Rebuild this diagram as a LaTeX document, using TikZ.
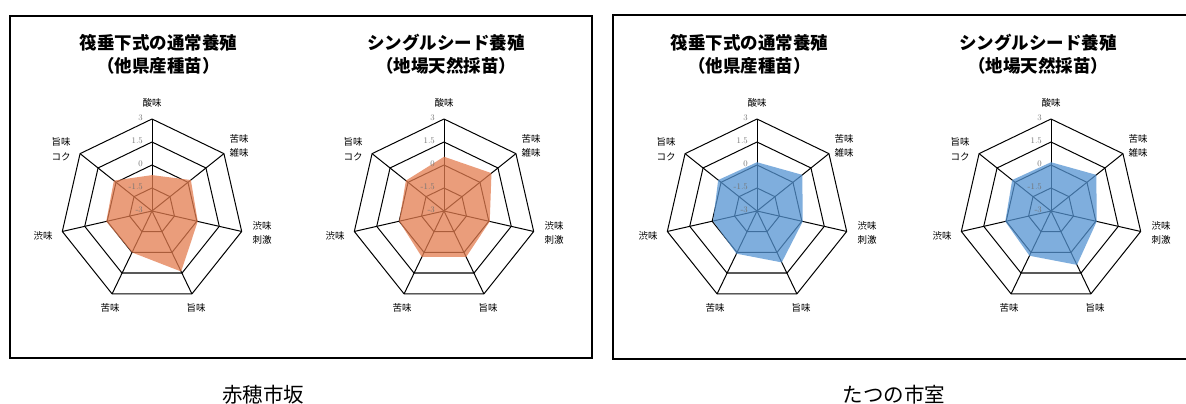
\documentclass[tikz,border=0pt]{standalone}
\usepackage{fontspec}
\newfontfamily\cjk{Noto Sans CJK JP}
\definecolor{orangefill}{RGB}{228,125,80}
\definecolor{bluefill}{RGB}{85,148,210}
\tikzset{
  gridline/.style={black, line width=1pt, line join=round},
  axislabel/.style={font=\cjk\fontsize{9.5}{14.5}\selectfont, align=center, inner sep=0pt},
  scalelabel/.style={font=\fontsize{8.5}{8.5}\selectfont, text=black!55, anchor=east, inner sep=0pt},
  charttitle/.style={font=\cjk\bfseries\fontsize{17.5}{23}\selectfont, align=center, inner sep=0pt},
  captiontext/.style={font=\cjk\fontsize{20.5}{24}\selectfont, inner sep=0pt},
  panelframe/.style={black, line width=2pt},
  datafill/.style={fill=#1, fill opacity=0.75},
}
% #1 prefix, #2 centre x, #3 fill colour, #4 seven radius fractions
\newcommand\radarchart[4]{%
  \begin{scope}[shift={(#2,193)}]
    \foreach \f in {1,0.75,0.5,0.25}{
      \draw[gridline] (90:\f*92) \foreach \k in {1,...,6}{ -- (90-\k*360/7:\f*92) } -- cycle;
    }
    \draw[gray!70!black, line width=1.6pt] (90-3*360/7:0.75*92) -- (90-4*360/7:0.75*92);
    \foreach \k in {0,...,6}{
      \draw[gridline] (0,0) -- (90-\k*360/7:92);
    }
    \foreach \v [count=\k from 0] in {#4}{
      \coordinate (#1-p\k) at (90-\k*360/7:\v*92);
    }
    \fill[datafill=#3] (#1-p0) -- (#1-p1) -- (#1-p2) -- (#1-p3) -- (#1-p4) -- (#1-p5) -- (#1-p6) -- cycle;
    \node[scalelabel] (#1-s3) at (-9,93) {3};
    \node[scalelabel] (#1-s2) at (-9,70) {1.5};
    \node[scalelabel] (#1-s1) at (-9,47) {0};
    \node[scalelabel] (#1-s0) at (-9,24) {-1.5};
    \node[scalelabel] (#1-sm) at (-9,1) {-3};
    \node[axislabel] (#1-a0) at (0,108) {酸味};
    \node[axislabel] (#1-a1) at (87,65) {苦味\\雑味};
    \node[axislabel] (#1-a2) at (110,-22) {渋味\\刺激};
    \node[axislabel] (#1-a3) at (44,-97) {旨味};
    \node[axislabel] (#1-a4) at (-42,-97) {苦味};
    \node[axislabel] (#1-a5) at (-109,-25) {渋味};
    \node[axislabel] (#1-a6) at (-91,62) {旨味\\コク};
  \end{scope}
}
\begin{document}
\begin{tikzpicture}[x=1pt, y=1pt]
  \useasboundingbox (0,0) rectangle (1186,404);
  \clip (0,0) rectangle (1186,404);
  \fill[white] (0,0) rectangle (1186,404);
  % frames
  \draw[panelframe] (10,46) rectangle (592,388);
  \draw[panelframe] (613,45) rectangle (1200,389);
  % charts
  \radarchart{c1}{152}{orangefill}{0.39,0.54,0.51,0.73,0.50,0.51,0.53}
  \radarchart{c2}{444}{orangefill}{0.59,0.66,0.51,0.555,0.555,0.50,0.53}
  \radarchart{c3}{757}{bluefill}{0.53,0.63,0.51,0.62,0.515,0.49,0.54}
  \radarchart{c4}{1051}{bluefill}{0.53,0.63,0.51,0.65,0.54,0.51,0.54}
  % titles
  \node[charttitle] (t1) at (158.5,349.5) {筏垂下式の通常養殖\\（他県産種苗）};
  \node[charttitle] (t2) at (446,349.5) {シングルシード養殖\\（地場天然採苗）};
  \node[charttitle] (t3) at (749.5,349.5) {筏垂下式の通常養殖\\（他県産種苗）};
  \node[charttitle] (t4) at (1038,349.5) {シングルシード養殖\\（地場天然採苗）};
  % captions
  \node[captiontext] (cap1) at (263,9) {赤穂市坂};
  \node[captiontext] (cap2) at (894,9) {たつの市室};
\end{tikzpicture}
\end{document}
